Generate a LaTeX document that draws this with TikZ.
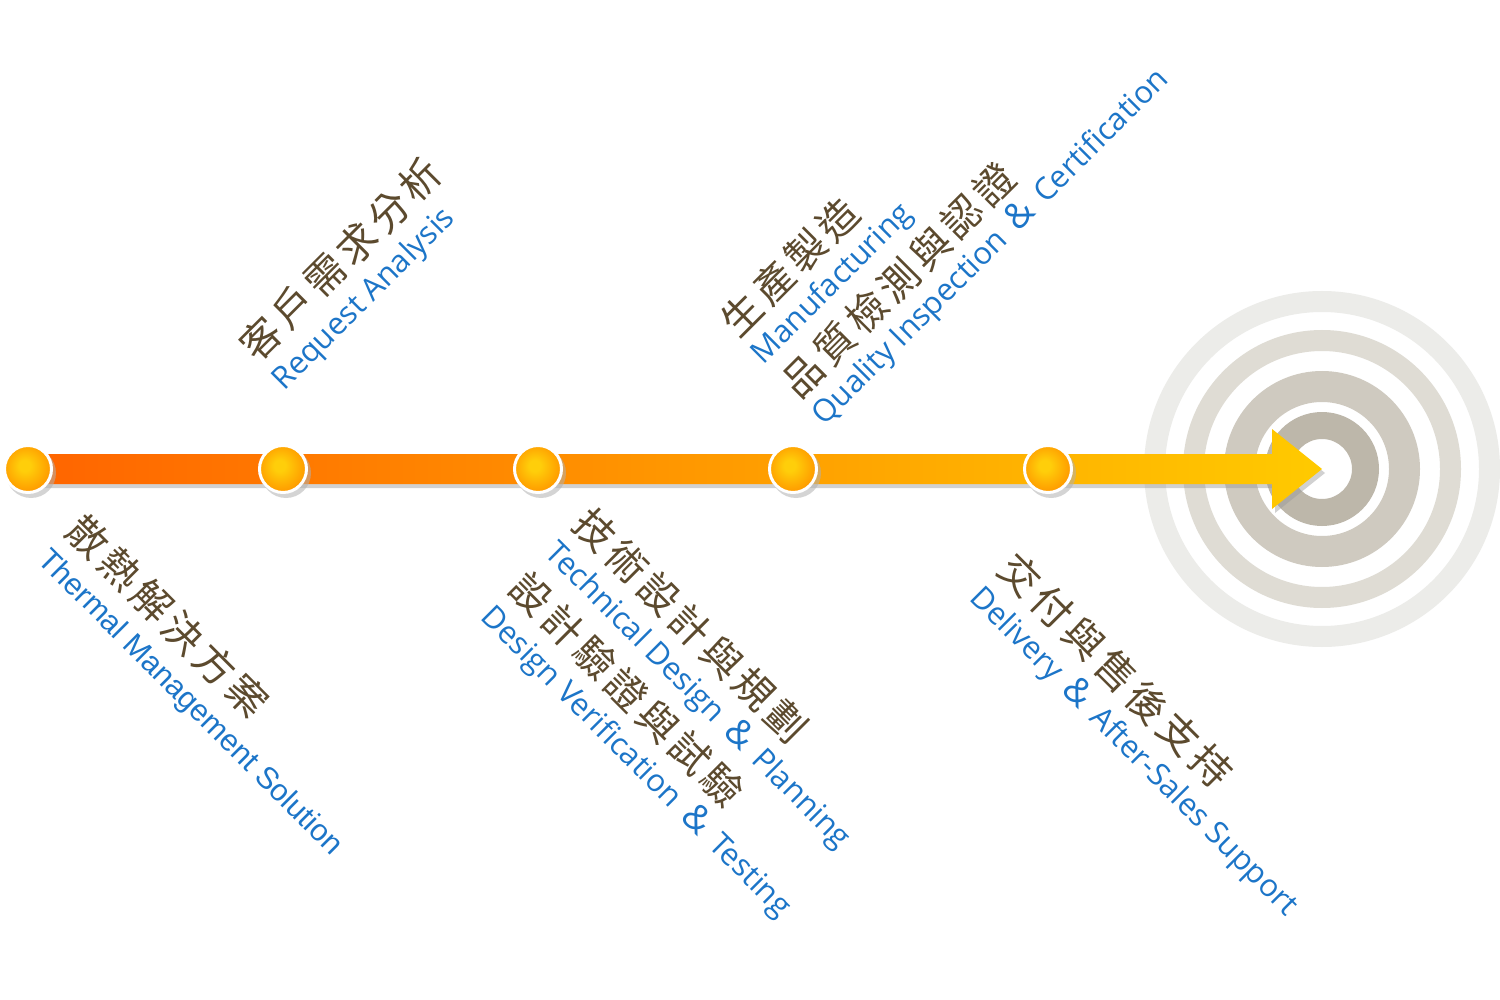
\documentclass[tikz,border=0pt]{standalone}
\usepackage{fontspec}
\setmainfont{Open Sans}
\newfontfamily\arialf{Liberation Sans}
\newfontfamily\cjk{Noto Sans CJK TC}
\definecolor{barL}{RGB}{255,100,0}
\definecolor{barR}{RGB}{255,202,0}
\definecolor{ballin}{RGB}{255,206,10}
\definecolor{ballmid}{RGB}{255,160,0}
\definecolor{ballout}{RGB}{255,108,0}
\definecolor{brownC}{RGB}{92,74,46}
\definecolor{blueC}{RGB}{28,117,200}
\definecolor{ringA}{RGB}{236,236,233}
\definecolor{ringB}{RGB}{223,220,212}
\definecolor{ringC}{RGB}{207,202,192}
\definecolor{ringD}{RGB}{189,183,170}
\pgfdeclareradialshading{ballshade}{\pgfpoint{-4bp}{4bp}}{color(0bp)=(ballin); color(6bp)=(ballin); color(24bp)=(ballmid); color(42bp)=(ballout); color(50bp)=(ballout)}
\newcommand\kk{\kern 5pt}
\newcommand\amp{\ \kern 5pt{\fontsize{36}{37}\selectfont\&}\kern 5pt\ }
\begin{document}
\begin{tikzpicture}[x=1pt,y=-1pt,
  cn/.style={inner sep=0pt, anchor=west, text=brownC, font=\cjk\fontsize{40}{46}\selectfont, text height=35pt, text depth=5pt},
  en/.style={inner sep=0pt, anchor=west, text=blueC, font=\fontsize{31}{37}\selectfont, text height=22.3pt, text depth=6.8pt},
  dot/.style={circle, minimum size=47pt, inner sep=0pt, draw=white, line width=3pt, shading=ballshade},
  dotshadow/.style={circle, minimum size=50pt, inner sep=0pt, fill=black!30, opacity=0.55}
]
\useasboundingbox (0,0) rectangle (1500,1000);
\fill[white] (0,0) rectangle (1500,1000);

% target rings
\coordinate (tip) at (1322,469);
\fill[ringA, even odd rule] (tip) circle (178pt) circle (157pt);
\fill[ringB, even odd rule] (tip) circle (139pt) circle (118pt);
\fill[ringC, even odd rule] (tip) circle (98pt) circle (67pt);
\fill[ringD, even odd rule] (tip) circle (57pt) circle (30pt);

% arrow shadow and arrow
\fill[black!40, opacity=0.45] (31,458) -- (1275,458) -- (1275,433) -- (1325,473) -- (1275,513) -- (1275,488) -- (31,488) -- cycle;
\shade[left color=barL, right color=barR] (28,454) -- (1272,454) -- (1272,429) -- (tip) -- (1272,509) -- (1272,484) -- (28,484) -- cycle;

% step dots
\foreach \i/\x in {1/28,2/283,3/538,4/793,5/1048}{
  \node[dotshadow] at (\x+3,473) {};
  \node[dot] (s\i) at (\x,469) {};
}

% labels
\node[cn, rotate=-45] (t1a) at (74,523) {散\kk 熱\kk 解\kk 決\kk 方\kk 案};
\node[en, rotate=-45, font=\arialf\fontsize{30.5}{36}\selectfont] (t1b) at (42,556) {Thermal Management Solution};

\node[cn, rotate=45] (t2a) at (247,353) {客\kk 戶\kk 需\kk 求\kk 分\kk 析};
\node[en, rotate=45] (t2b) at (279,386) {Request Analysis};

\node[cn, rotate=-45] (t3a) at (581,516) {技\kk 術\kk 設\kk 計\kk 與\kk 規\kk 劃};
\node[en, rotate=-45] (t3b) at (549,549) {Technical Design\amp Planning};
\node[cn, rotate=-45] (t3c) at (517,580) {設\kk 計\kk 驗\kk 證\kk 與\kk 試\kk 驗};
\node[en, rotate=-45] (t3d) at (485,613) {Design Verification\amp Testing};

\node[cn, rotate=45] (t4a) at (728,329) {生\kk 產\kk 製\kk 造};
\node[en, rotate=45] (t4b) at (758,360) {Manufacturing};
\node[cn, rotate=45] (t4c) at (789,390) {品\kk 質\kk 檢\kk 測\kk 與\kk 認\kk 證};
\node[en, rotate=45] (t4d) at (819,421) {Quality Inspection\amp Certification};

\node[cn, rotate=-45] (t5a) at (1006,561) {交\kk 付\kk 與\kk 售\kk 後\kk 支\kk 持};
\node[en, rotate=-45] (t5b) at (974,594) {Delivery\amp After-Sales Support};
\end{tikzpicture}
\end{document}
